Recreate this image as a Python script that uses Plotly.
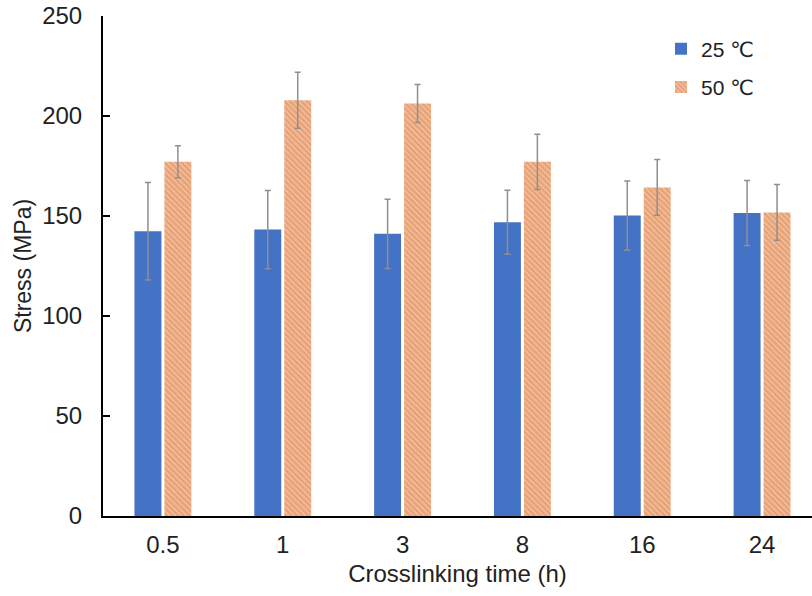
import plotly.graph_objects as go

categories = ["0.5", "1", "3", "8", "16", "24"]
stress_25 = [142.4, 143.2, 141.1, 146.9, 150.2, 151.5]
err_25 = [24.4, 19.6, 17.3, 16.0, 17.3, 16.2]
stress_50 = [177.1, 207.9, 206.2, 177.1, 164.3, 151.8]
err_50 = [8.0, 14.0, 9.5, 13.8, 13.9, 13.9]

FONT = "Liberation Sans, Arial, DejaVu Sans, sans-serif"
TXT = "#222222"

fig = go.Figure()
fig.add_trace(go.Bar(
    x=categories, y=stress_25, name="25 ℃", legendgroup="a",
    marker=dict(color="#4472C4", line=dict(width=0)),
    error_y=dict(type="data", array=err_25, visible=True,
                 color="#8f8f8f", thickness=1.5, width=3),
))
fig.add_trace(go.Bar(
    x=categories, y=stress_50, name="50 ℃", legendgroup="b",
    marker=dict(color="#F2BE9C", line=dict(width=0),
                pattern=dict(shape="\\", fgcolor="#DC814B", bgcolor="#F2BE9C",
                             size=4, solidity=0.55)),
    error_y=dict(type="data", array=err_50, visible=True,
                 color="#8f8f8f", thickness=1.5, width=3),
))

fig.update_layout(
    width=812, height=596,
    margin=dict(l=103, r=0, t=16, b=80),
    paper_bgcolor="white", plot_bgcolor="white",
    barmode="group", bargap=0.5, bargroupgap=0.1,
    font=dict(family=FONT, size=24, color=TXT),
    showlegend=True,
    legend=dict(x=0.787, y=0.975, xanchor="left", yanchor="top",
                bgcolor="rgba(0,0,0,0)", font=dict(size=21),
                tracegroupgap=8, itemwidth=30),
)
fig.update_xaxes(
    type="category", range=[-0.5, 5.4167], automargin=False,
    showline=True, linecolor="black", linewidth=2,
    ticks="", showgrid=False, zeroline=False,
    tickfont=dict(size=24), ticklabelstandoff=6,
    title=dict(text="Crosslinking time (h)", font=dict(size=24), standoff=8),
)
fig.update_yaxes(
    range=[0, 250], dtick=50, tick0=0, automargin=False,
    ticklabeloverflow="allow",
    showline=True, linecolor="black", linewidth=2,
    ticks="inside", ticklen=7, tickwidth=2, tickcolor="black",
    showgrid=False, zeroline=False,
    tickfont=dict(size=24), ticklabelstandoff=14,
    title=dict(text="Stress (MPa)", font=dict(size=23), standoff=4),
)

fig.write_html("out.html", config={"displayModeBar": False},
               post_script="document.body.style.margin='0';")
